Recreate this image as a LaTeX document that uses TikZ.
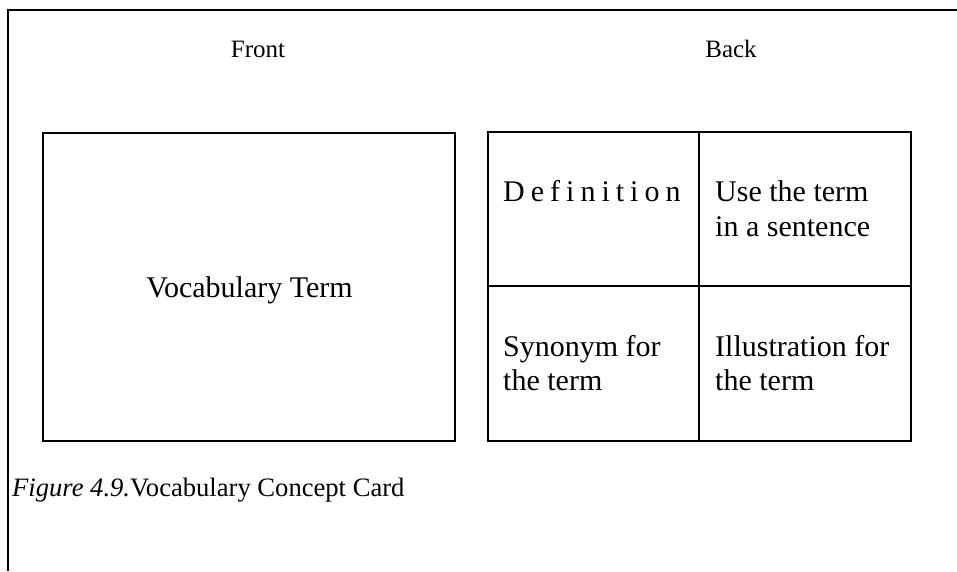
\documentclass[tikz,border=0pt]{standalone}
\usepackage{fontspec}
\setmainfont{Liberation Serif}
\begin{document}
\begin{tikzpicture}[x=1pt,y=-1pt,
  frame/.style={line width=1.8pt},
  card/.style={line width=2pt},
  lbl/.style={inner sep=0pt, anchor=base west, font=\fontsize{30}{35}\selectfont},
  head/.style={inner sep=0pt, anchor=base, font=\fontsize{25}{30}\selectfont}]
\useasboundingbox (0,0) rectangle (957,571);
% outer frame (top and left only)
\draw[frame] (8,571) -- (8,10) -- (957,10);
% front card
\draw[card] (43,133) rectangle (455,441);
% back card grid
\draw[card] (488,132) rectangle (911,441);
\draw[card] (699,132) -- (699,441);
\draw[card] (488,286) -- (911,286);
% headings
\node[head] (front) at (258,57) {Front};
\node[head] (back) at (731,57) {Back};
% front text
\node[lbl, anchor=base] (term) at (249.5,297) {Vocabulary Term};
% back texts
\node[lbl] (def) at (503,201) {\addfontfeature{LetterSpace=20}Definition};
\node[lbl] (use1) at (715,201) {Use the term};
\node[lbl] (use2) at (715,236) {in a sentence};
\node[lbl] (syn1) at (503,356) {Synonym for};
\node[lbl] (syn2) at (503,390) {the term};
\node[lbl] (ill1) at (715,356) {Illustration for};
\node[lbl] (ill2) at (715,390) {the term};
% caption
\node[inner sep=0pt, anchor=base west, font=\fontsize{26.6}{30}\selectfont] (cap) at (12,496) {\textit{Figure 4.9.}Vocabulary Concept Card};
\end{tikzpicture}
\end{document}
